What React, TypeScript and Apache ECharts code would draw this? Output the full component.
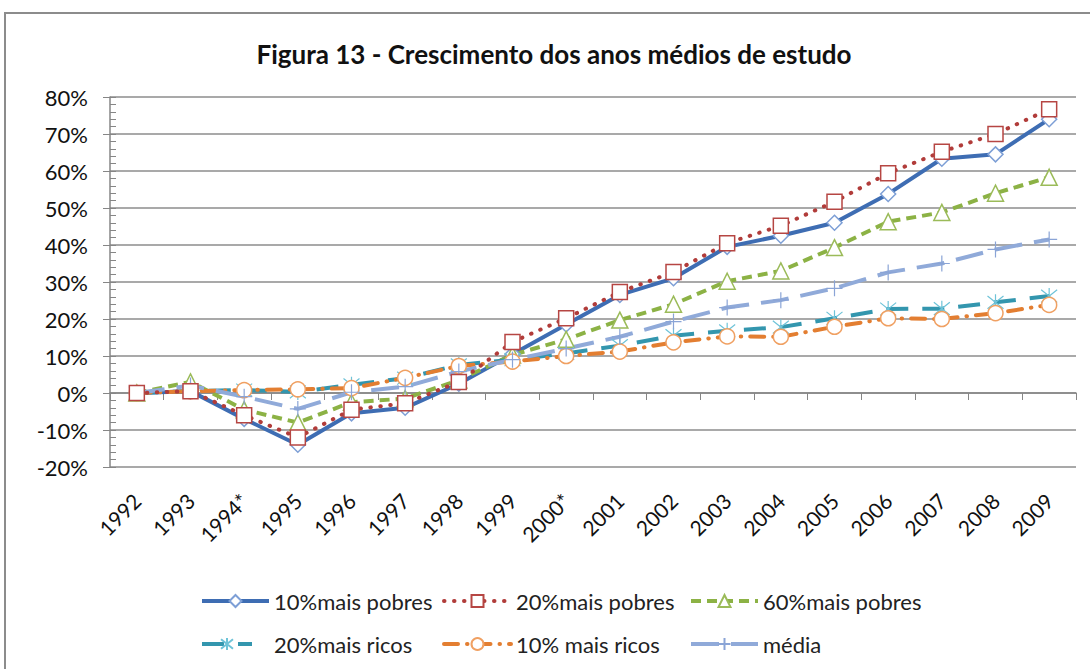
import React, { useEffect, useRef } from "react";
import * as echarts from "echarts";

const years = ["1992", "1993", "1994*", "1995", "1996", "1997", "1998", "1999", "2000*", "2001", "2002", "2003", "2004", "2005", "2006", "2007", "2008", "2009"];

const pobres10 = [0, 0.5, -7, -14, -5.5, -4, 2.5, 10.5, 18.5, 26.5, 31, 39.5, 42.5, 46, 53.8, 63.3, 64.5, 74];
const pobres20 = [0, 0.5, -6, -12, -4.5, -2.8, 3, 13.8, 20.2, 27.3, 32.7, 40.5, 45.2, 51.7, 59.4, 65.2, 70, 76.7];
const pobres60 = [0, 3, -4.5, -8, -2.5, -1.5, 3.5, 10.3, 14.5, 19.7, 24, 30.2, 33, 39.3, 46.3, 48.8, 54, 58.3];
const ricos20 = [0, 0.5, 0.8, 0.3, 2.2, 4, 7.6, 9, 10.7, 12.8, 15.5, 16.8, 17.8, 20.2, 22.7, 22.8, 24.5, 26.2];
const ricos10 = [0, 0.5, 0.8, 1, 1.3, 4.1, 7.3, 8.5, 10, 11.2, 13.7, 15.3, 15.2, 17.9, 20.2, 20, 21.6, 23.8];
const media = [0, 2, -1, -4.3, 0.2, 1.7, 5.8, 9, 12, 15.2, 19.3, 23.1, 25.1, 28.3, 32.6, 35, 38.8, 41.5];

const names = ["10%mais pobres", "20%mais pobres", "60%mais pobres", "20%mais ricos", "10% mais ricos", "média"];

const FONT = "Lato";

export default function App() {
  const ref = useRef<HTMLDivElement>(null);
  useEffect(() => {
    const chart = echarts.init(ref.current!, null, { renderer: "svg" });
    const star = "path://M0,-1L0,1M-0.8,-0.8L0.8,0.8M-0.8,0.8L0.8,-0.8";
    const plus = "path://M0,-1L0,1M-1,0L1,0";
    const legendBase = (name: string, left: number, top: number, itemWidth: number, pad = 0) => ({
      data: [name],
      left,
      top,
      orient: "horizontal",
      itemWidth,
      itemHeight: 15,
      itemGap: 0,
      padding: 0,
      lineStyle: { width: 4 },
      textStyle: { fontFamily: FONT, fontSize: 22, color: "#222", padding: [0, 0, 0, pad] },
    });
    chart.setOption({
      animation: false,
      backgroundColor: "#fff",
      title: {
        text: "Figura 13 - Crescimento dos anos médios de estudo",
        left: 549,
        textAlign: "center",
        top: 36,
        textStyle: { fontFamily: FONT, fontSize: 26, fontWeight: "bold", color: "#111" },
      },
      graphic: [
        {
          type: "rect",
          shape: { x: 5, y: 13, width: 1100, height: 700 },
          style: { fill: "none", stroke: "#8c8c8c", lineWidth: 2 },
          silent: true,
        },
      ],
      legend: [
        legendBase(names[0], 200, 590, 67),
        legendBase(names[1], 442, 590, 67),
        legendBase(names[2], 689, 590, 67),
        legendBase(names[3], 200, 633, 50, 17),
        legendBase(names[4], 442, 633, 67),
        legendBase(names[5], 689, 633, 67),
      ],
      grid: { left: 110, right: 14, top: 97, bottom: 202 },
      xAxis: {
        type: "category",
        data: years,
        boundaryGap: true,
        axisLine: { lineStyle: { color: "#868686", width: 1.5 } },
        axisTick: { show: true, length: 7, alignWithLabel: false, lineStyle: { color: "#868686" } },
        axisLabel: { rotate: 45, fontFamily: FONT, fontSize: 21, color: "#111", margin: 30, interval: 0 },
      },
      yAxis: [
        {
          type: "value",
          min: -20,
          max: 80,
          interval: 10,
          axisLine: { show: true, lineStyle: { color: "#868686", width: 1.5 } },
          axisTick: { show: true, length: 7, lineStyle: { color: "#868686" } },
          axisLabel: { formatter: "{value}%", fontFamily: FONT, fontSize: 22, color: "#111", margin: 22 },
          splitLine: { show: true, lineStyle: { color: "#8c8c8c", width: 1.5 } },
        },
        {
          type: "value",
          min: -20,
          max: 80,
          interval: 2,
          position: "left",
          axisLine: { show: false },
          axisTick: { show: true, inside: true, length: 6, lineStyle: { color: "#868686" } },
          axisLabel: { show: false },
          splitLine: { show: false },
        },
      ],
      series: [
        {
          name: names[0],
          type: "line",
          data: pobres10,
          symbol: "diamond",
          symbolSize: 15,
          lineStyle: { color: "#3e6db3", width: 4, type: "solid" },
          itemStyle: { color: "#fff", borderColor: "#7d9fd6", borderWidth: 1.5 },
          z: 3,
        },
        {
          name: names[1],
          type: "line",
          data: pobres20,
          symbol: "rect",
          symbolSize: 15,
          lineStyle: { color: "#b13c3a", width: 4, type: [0.5, 9.5], cap: "round" },
          itemStyle: { color: "#fff", borderColor: "#b64643", borderWidth: 1.5 },
          z: 4,
        },
        {
          name: names[2],
          type: "line",
          data: pobres60,
          symbol: "triangle",
          symbolSize: 16,
          lineStyle: { color: "#8cb245", width: 4, type: [10, 6] },
          itemStyle: { color: "#fff", borderColor: "#9bbb59", borderWidth: 1.5 },
          z: 3,
        },
        {
          name: names[3],
          type: "line",
          data: ricos20,
          symbol: star,
          symbolSize: 16,
          lineStyle: { color: "#3396ae", width: 4, type: [22, 14] },
          itemStyle: { color: "#6ec3d8", borderColor: "#6ec3d8", borderWidth: 1.2 },
          z: 3,
        },
        {
          name: names[4],
          type: "line",
          data: ricos10,
          symbol: "circle",
          symbolSize: 15,
          lineStyle: { color: "#e37e31", width: 4, type: [14, 9, 0.5, 9], cap: "round" },
          itemStyle: { color: "#fff", borderColor: "#f0a062", borderWidth: 1.5 },
          z: 3,
        },
        {
          name: names[5],
          type: "line",
          data: media,
          symbol: plus,
          symbolSize: 16,
          lineStyle: { color: "#90aad9", width: 4, type: [28, 12] },
          itemStyle: { color: "#8aa4d6", borderColor: "#8aa4d6", borderWidth: 1.2 },
          z: 3,
        },
      ],
    });
    return () => chart.dispose();
  }, []);
  return (
    <div
      ref={ref}
      style={{ position: "fixed", left: 0, top: 0, width: 1090, height: 669, background: "#fff" }}
    />
  );
}
